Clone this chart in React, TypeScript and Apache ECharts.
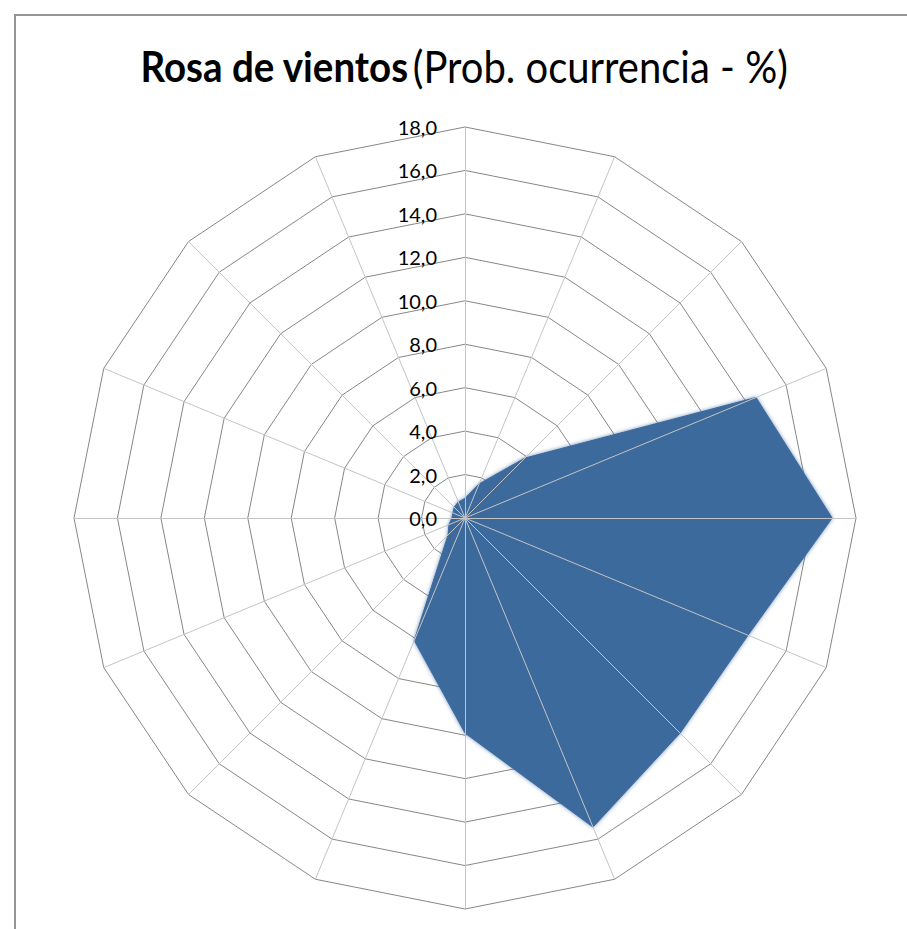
import React, { useEffect, useRef } from "react";
import * as echarts from "echarts";

// Directions, clockwise from North
const directions = ["N", "NNE", "NE", "ENE", "E", "ESE", "SE", "SSE", "S", "SSW", "SW", "WSW", "W", "WNW", "NW", "NNW"];
// Probability of occurrence (%) per direction
const probabilities = [0.9, 1.7, 3.9, 14.5, 16.9, 14.1, 14.0, 15.4, 9.9, 6.1, 1.1, 0.8, 0.6, 0.6, 0.7, 0.8];
const axisMin = 0;
const axisMax = 18;
const axisSplits = 9;
const titleBold = "Rosa de vientos";
const titleRest = "(Prob. ocurrencia - %)";

// ECharts radar runs counter-clockwise: keep N first, reverse the rest
const ccw = <T,>(arr: T[]): T[] => [arr[0], ...arr.slice(1).reverse()];

export default function App() {
  const ref = useRef<HTMLDivElement>(null);
  useEffect(() => {
    document.body.style.margin = "0";
    const chart = echarts.init(ref.current!, null, { renderer: "svg" });
    const dirs = ccw(directions);
    const vals = ccw(probabilities);
    const center = [465, 518];
    const radius = 391;
    const fmt = (v: number) => v.toFixed(1).replace(".", ",");
    chart.setOption({
      animation: false,
      backgroundColor: "#ffffff",
      graphic: [
        {
          type: "rect",
          shape: { x: 15, y: 15, width: 1200, height: 1200 },
          style: { fill: "none", stroke: "#959595", lineWidth: 2 },
          silent: true,
        },
        {
          type: "text",
          x: 464,
          y: 66,
          scaleY: 1.1,
          style: {
            text: `{b|${titleBold}}{s| }{n|${titleRest}}`,
            textAlign: "center",
            textVerticalAlign: "middle",
            rich: {
              b: { fontFamily: "Lato", fontWeight: "bold", fontSize: 38.5, fill: "#000" },
              s: { fontFamily: "Lato", fontSize: 16, fill: "#000" },
              n: { fontFamily: "Lato", fontSize: 40, fill: "#000" },
            },
          },
        },
      ],
      radar: [
        {
          center,
          radius,
          shape: "polygon",
          splitNumber: axisSplits,
          startAngle: 90,
          z: 1,
          indicator: dirs.map((d) => ({
            name: d,
            min: axisMin,
            max: axisMax,
          })),
          axisName: { show: false },
          axisLine: { show: false },
          splitLine: { lineStyle: { color: "#878787", width: 1 } },
          splitArea: { show: false },
        },
        {
          center,
          radius,
          shape: "polygon",
          splitNumber: axisSplits,
          startAngle: 90,
          z: 5,
          indicator: dirs.map((d, i) => ({
            name: d,
            min: axisMin,
            max: axisMax,
            axisLabel: i === 0 ? { show: true } : undefined,
          })),
          axisName: { show: false },
          axisLine: { show: true, lineStyle: { color: "#c4c4c4", width: 1 } },
          axisLabel: {
            show: false,
            formatter: (v: number) => fmt(v),
            fontFamily: "Lato",
            fontSize: 20,
            color: "#000",
            margin: 28,
          },
          splitLine: { show: false },
          splitArea: { show: false },
        },
      ],
      series: [
        {
          type: "radar",
          radarIndex: 0,
          z: 3,
          symbol: "none",
          lineStyle: { color: "#3e6a9d", width: 1 },
          areaStyle: { color: "#3e6a9d", opacity: 1, shadowBlur: 4, shadowColor: "rgba(62,106,157,0.9)" },
          data: [{ value: vals, name: "Prob. ocurrencia" }],
        },
      ],
    });
    return () => chart.dispose();
  }, []);
  return <div ref={ref} style={{ width: 907, height: 929 }} />;
}
